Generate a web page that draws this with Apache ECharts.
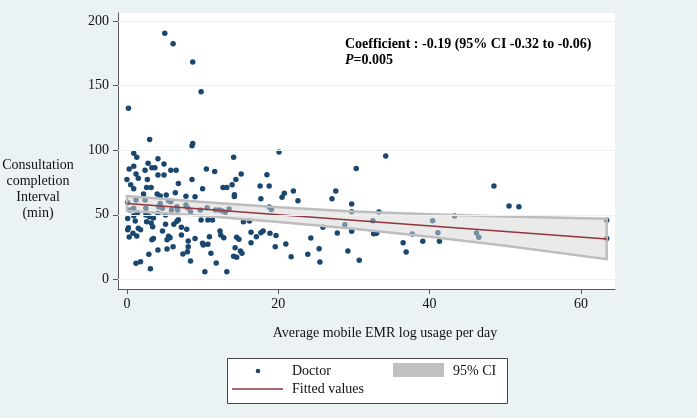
<!DOCTYPE html>
<html>
<head>
<meta charset="utf-8">
<script src="https://cdn.jsdelivr.net/npm/echarts@6/dist/echarts.min.js"></script>
<style>
  html, body { margin: 0; padding: 0; background: #EAF2F3; }
  #chart { width: 697px; height: 418px; }
</style>
</head>
<body>
<div id="chart"></div>
<script>
// average mobile EMR log usage per day vs consultation completion interval (min)
let doctorPoints = [
  [5.0,190.7],[6.1,182.4],[8.7,168.3],[9.8,145.3],[0.2,132.5],[3.0,108.4],[8.7,105.3],[8.6,103.4],
  [0.9,97.6],[1.3,94.5],[0.3,85.4],[0.9,87.5],[2.8,90.0],[4.1,93.4],[4.9,89.3],[2.4,84.4],[3.3,86.4],
  [3.7,86.4],[5.8,84.4],[6.5,84.4],[1.2,81.5],[1.5,78.2],[0.0,77.4],[2.7,77.4],[4.1,80.8],[4.9,80.8],
  [0.5,73.2],[0.9,70.2],[2.6,71.2],[3.2,71.2],[6.8,74.3],[8.6,77.4],[2.2,66.1],[4.0,66.1],[4.4,64.5],
  [5.2,65.3],[6.4,67.1],[7.8,64.3],[9.0,64.0],
  [14.1,94.5],[10.5,85.4],[11.6,83.6],[15.1,81.5],[14.4,77.4],[18.5,81.0],[10.0,70.2],[12.7,71.2],
  [13.2,71.2],[13.9,73.2],[14.2,65.5],[14.2,64.2],[17.6,72.2],[18.8,72.2],[17.7,62.4],
  [20.1,98.6],[34.2,95.5],[30.3,85.9],[20.8,66.6],[20.5,63.5],[22.0,68.4],[22.6,60.9],[27.6,68.4],
  [27.1,62.4],[29.7,58.3],[29.7,52.3],[33.3,52.1],[18.8,56.0],[19.1,54.0],
  [18.9,35.6],[19.7,34.0],[19.6,25.2],[21.0,27.3],[21.7,17.5],[24.3,32.0],[23.9,19.4],[25.4,23.7],
  [25.5,13.4],[25.9,40.3],[27.8,35.8],[28.8,42.3],[29.7,37.2],[29.2,21.9],[30.7,14.7],[32.5,45.4],
  [32.6,35.3],[33.0,35.6],[36.5,28.3],[36.9,21.1],[37.7,35.1],
  [48.5,72.2],[50.5,56.8],[51.8,56.2],[39.1,29.4],[40.4,45.4],[41.1,36.1],[41.3,29.4],[43.3,49.0],
  [46.2,35.8],[46.5,32.5],[63.4,45.7],[63.4,31.7],
  [0.1,47.2],[0.9,49.3],[1.1,45.1],[0.2,40.0],[0.1,38.4],[0.3,32.8],[0.8,35.6],[1.3,33.5],[1.5,39.5],
  [1.8,38.4],[2.5,49.8],[3.0,48.5],[3.5,47.5],[3.2,43.6],[3.4,40.7],[2.6,44.6],[3.5,31.7],[3.3,30.7],
  [4.7,37.4],[4.1,51.1],[5.5,33.3],[5.7,32.2],[5.3,30.7],[5.1,42.6],[6.2,42.6],[6.6,44.9],[6.8,46.1],
  [7.2,40.3],[7.9,38.7],[7.2,34.3],[8.1,29.7],[8.1,25.2],[9.0,31.7],[6.1,25.2],[5.3,23.5],[4.1,22.7],
  [2.9,19.4],[8.0,21.4],[7.4,19.6],[8.4,14.2],[1.8,13.6],[1.2,12.4],[3.1,8.2],
  [9.8,45.9],[10.7,45.9],[11.3,45.9],[15.4,44.6],[16.2,45.1],[10.9,33.0],[10.0,27.9],[10.1,26.6],
  [10.7,27.1],[12.3,37.4],[12.4,34.3],[12.8,32.2],[14.5,32.5],[14.8,31.0],[14.3,24.5],[15.0,21.9],
  [15.2,20.1],[14.1,17.9],[14.5,17.0],[11.1,20.1],[11.8,12.6],[10.3,5.9],[13.2,5.9],[16.4,36.4],
  [16.4,28.3],[17.1,33.0],[17.7,36.1],[18.0,37.4],
  [10.6,55.4],[9.7,53.7],[11.7,53.7],[12.2,53.7],[13.0,51.9],[13.5,54.4],[12.6,52.9],
  [0.1,59.6],[0.9,55.0],[1.2,61.4],[0.4,53.7],[1.4,51.6],[2.4,61.4],[2.5,55.0],[2.6,51.1],[4.4,58.8],
  [4.2,56.2],[4.7,55.0],[5.5,60.9],[5.8,60.1],[5.9,53.7],[5.1,49.8],[6.6,56.2],[6.7,53.7],[7.8,57.5],
  [8.0,55.4],[8.4,52.3]
]

// fitted values line
let fitX = [0, 63.4]
let fitY = [58.8, 31.3]

// 95% CI band
let bandX = [0, 10, 20, 30, 40, 50, 63.4]
let bandUpper = [64.5, 59.8, 55.8, 52.6, 50.5, 48.6, 46.9]
let bandLower = [53.0, 49.3, 44.4, 39.2, 33.0, 26.0, 15.6]

let xTicks = [0, 20, 40, 60]
let yTicks = [0, 50, 100, 150, 200]

const serif = '"Liberation Serif", "Times New Roman", serif'
const navy = '#1A476F'
const maroon = '#90353B'

let chart = echarts.init(document.getElementById('chart'))

let option = {
  backgroundColor: '#EAF2F3',
  animation: false,
  grid: {
    left: 118,
    right: 82,
    top: 13,
    bottom: 129,
    show: true,
    backgroundColor: '#ffffff',
    borderWidth: 0
  },
  xAxis: {
    type: 'value',
    min: -1.18,
    max: 64.5,
    axisLine: { show: true, onZero: false, lineStyle: { color: '#555', width: 1 } },
    axisTick: { show: true, customValues: xTicks, length: 5, lineStyle: { color: '#555' } },
    axisLabel: { customValues: xTicks, margin: 8, fontFamily: serif, fontSize: 14, color: '#111' },
    splitLine: { show: false }
  },
  yAxis: {
    type: 'value',
    min: -7.5,
    max: 206.3,
    axisLine: { show: true, onZero: false, lineStyle: { color: '#555', width: 1 } },
    axisTick: { show: true, customValues: yTicks, length: 5, lineStyle: { color: '#555' } },
    axisLabel: { customValues: yTicks, margin: 9, fontFamily: serif, fontSize: 14, color: '#111' },
    splitLine: { show: false }
  },
  series: [
    {
      // gridlines only
      type: 'line',
      data: [],
      z: 1,
      silent: true,
      markLine: {
        silent: true,
        symbol: 'none',
        label: { show: false },
        lineStyle: { color: '#EAF2F3', width: 1, type: 'solid' },
        data: yTicks.map(v => ({ yAxis: v }))
      }
    },
    {
      name: 'Doctor',
      type: 'scatter',
      z: 2,
      symbolSize: 5.5,
      itemStyle: { color: navy, opacity: 1 },
      data: doctorPoints
    },
    {
      name: '95% CI',
      type: 'custom',
      z: 3,
      data: [0],
      renderItem: function (params, api) {
        let pts = []
        for (let i = 0; i < bandX.length; i++) pts.push(api.coord([bandX[i], bandUpper[i]]))
        for (let i = bandX.length - 1; i >= 0; i--) pts.push(api.coord([bandX[i], bandLower[i]]))
        return {
          type: 'polygon',
          shape: { points: pts },
          style: { fill: 'rgba(214,214,214,0.5)', stroke: '#BDBDBD', lineWidth: 2.5 }
        }
      }
    },
    {
      name: 'Fitted values',
      type: 'line',
      z: 4,
      symbol: 'none',
      lineStyle: { color: maroon, width: 1.5 },
      data: fitX.map((x, i) => [x, fitY[i]])
    }
  ],
  graphic: [
    {
      type: 'text', x: 345, y: 37,
      style: {
        text: 'Coefficient : -0.19 (95% CI -0.32 to -0.06)',
        fontFamily: serif, fontSize: 14, fontWeight: 'bold', fill: '#000'
      }
    },
    {
      type: 'text', x: 345, y: 53,
      style: {
        text: '{i|P}{b|=0.005}',
        rich: {
          i: { fontFamily: serif, fontSize: 14, fontWeight: 'bold', fontStyle: 'italic', fill: '#000' },
          b: { fontFamily: serif, fontSize: 14, fontWeight: 'bold', fill: '#000' }
        }
      }
    },
    {
      type: 'text', x: 38, y: 157,
      style: {
        text: 'Consultation\ncompletion\nInterval\n(min)',
        align: 'center', lineHeight: 16,
        fontFamily: serif, fontSize: 14, fill: '#111'
      }
    },
    {
      type: 'text', x: 385, y: 333,
      style: {
        text: 'Average mobile EMR log usage per day',
        align: 'center', verticalAlign: 'middle',
        fontFamily: serif, fontSize: 14, fill: '#111'
      }
    },
    // legend box
    {
      type: 'rect', shape: { x: 227.5, y: 358.5, width: 280, height: 45 },
      style: { fill: '#fff', stroke: '#444', lineWidth: 1 }
    },
    { type: 'circle', shape: { cx: 258, cy: 371, r: 2.3 }, style: { fill: navy } },
    {
      type: 'text', x: 292, y: 371,
      style: { text: 'Doctor', verticalAlign: 'middle', fontFamily: serif, fontSize: 14, fill: '#111' }
    },
    { type: 'rect', shape: { x: 393, y: 363, width: 51, height: 14 }, style: { fill: '#C0C0C0' } },
    {
      type: 'text', x: 453, y: 371,
      style: { text: '95% CI', verticalAlign: 'middle', fontFamily: serif, fontSize: 14, fill: '#111' }
    },
    {
      type: 'line', shape: { x1: 232, y1: 389, x2: 283, y2: 389 },
      style: { stroke: maroon, lineWidth: 1.5 }
    },
    {
      type: 'text', x: 292, y: 389,
      style: { text: 'Fitted values', verticalAlign: 'middle', fontFamily: serif, fontSize: 14, fill: '#111' }
    }
  ]
}

chart.setOption(option)
</script>
</body>
</html>
